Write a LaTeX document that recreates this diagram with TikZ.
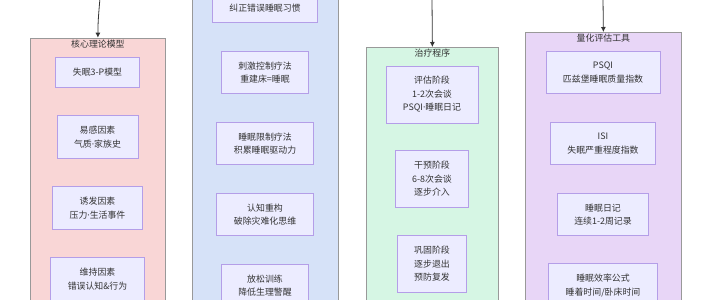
\documentclass[tikz,border=0pt]{standalone}
\usepackage{fontspec}
\setmainfont{Noto Sans CJK SC}
\newfontfamily\latinfont{Noto Sans}
\newcommand{\mdot}{{\latinfont ·}}
\usepackage{xcolor}
\usetikzlibrary{arrows.meta}
\definecolor{nodefill}{HTML}{ECECFF}
\definecolor{nodeline}{HTML}{B49EE8}
\definecolor{textgray}{HTML}{333333}
\definecolor{clusterline}{HTML}{999999}
\definecolor{corefill}{HTML}{F9D6D6}
\definecolor{cbtfill}{HTML}{D6E2F8}
\definecolor{procfill}{HTML}{D6F6E4}
\definecolor{toolfill}{HTML}{E8D6F7}
\tikzstyle{cluster} = [rectangle, draw=clusterline, line width=0.8pt, anchor=north west, minimum height=360pt, inner sep=0pt]
\tikzstyle{title} = [anchor=north, inner sep=2pt, text=textgray, font=\fontsize{8.9}{10}\selectfont]
\tikzstyle{box} = [rectangle, draw=nodeline, fill=nodefill, line width=0.8pt, align=center, inner xsep=17pt, inner ysep=10.5pt, text=textgray, font=\fontsize{8.9}{13.5}\selectfont]
\tikzstyle{arrow} = [line width=0.8pt, draw=textgray, ->, >={Latex[length=5pt,width=5pt]}]

\begin{document}
\begin{tikzpicture}[x=1pt, y=1pt, node distance=71pt]
  \useasboundingbox (0,0) rectangle (710,-300);
  \clip (0,0) rectangle (710,-300);

  \node (core)[cluster, fill=corefill, minimum width=135pt] at (30,-37.7) {};
  \node (coret)[title] at (core.north) {核心理论模型};
  \node (cbt)[cluster, fill=cbtfill, minimum width=146pt] at (192,30) {};
  \node (proc)[cluster, fill=procfill, minimum width=132pt] at (366,-47) {};
  \node (proct)[title] at (proc.north) {治疗程序};
  \node (tools)[cluster, fill=toolfill, minimum width=156pt] at (525,-32) {};
  \node (toolst)[title] at (tools.north) {量化评估工具};

  \node (model)[box] at (97.5,-72.5) {失眠3-P模型};
  \node (prone)[box] at (97.5,-137) {易感因素\\气质\mdot 家族史};
  \node (trigger)[box, below of=prone] {诱发因素\\压力\mdot 生活事件};
  \node (keep)[box, below of=trigger] {维持因素\\错误认知\&行为};

  \node (habit)[box] at (265,-7.8) {纠正错误睡眠习惯};
  \node (stim)[box] at (265,-72.5) {刺激控制疗法\\重建床=睡眠};
  \node (limit)[box, below of=stim] {睡眠限制疗法\\积累睡眠驱动力};
  \node (cogn)[box, below of=limit] {认知重构\\破除灾难化思维};
  \node (relax)[box, below of=cogn] {放松训练\\降低生理警醒};

  \node (assess)[box] at (432,-94.5) {评估阶段\\1-2次会谈\\PSQI\mdot 睡眠日记};
  \node (treat)[box, below of=assess, node distance=84.5pt] {干预阶段\\6-8次会谈\\逐步介入};
  \node (hold)[box, below of=treat, node distance=85pt] {巩固阶段\\逐步退出\\预防复发};

  \node (psqi)[box] at (603,-72.5) {PSQI\\匹兹堡睡眠质量指数};
  \node (isi)[box, below of=psqi] {ISI\\失眠严重程度指数};
  \node (diary)[box, below of=isi] {睡眠日记\\连续1-2周记录};
  \node (eff)[box, below of=diary] {睡眠效率公式\\睡着时间/卧床时间};

  \coordinate (top1) at (100,2);
  \coordinate (top3) at (432,2);
  \coordinate (top4) at (603,2);
  \draw [arrow] (top1) to[out=-95, in=90] (core.north);
  \draw [arrow] (top3) -- (proc.north);
  \draw [arrow] (top4) -- (tools.north);
\end{tikzpicture}
\end{document}
